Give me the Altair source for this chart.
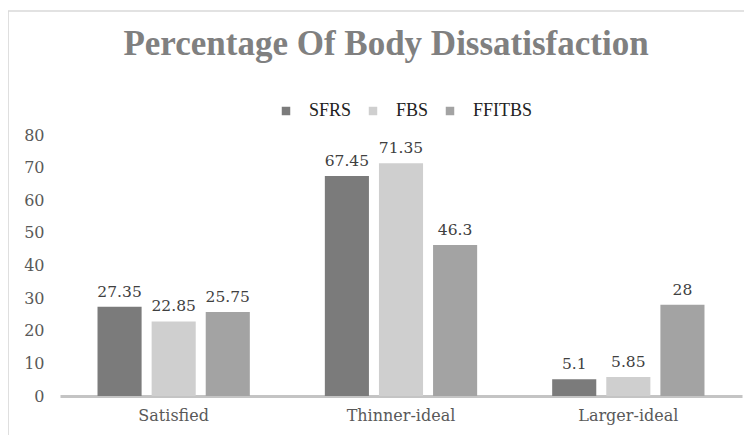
import altair as alt
import pandas as pd

categories = ["Satisfied", "Thinner-ideal", "Larger-ideal"]
series = ["SFRS", "FBS", "FFITBS"]
sfrs = [27.35, 67.45, 5.1]
fbs = [22.85, 71.35, 5.85]
ffitbs = [25.75, 46.3, 28]
y_ticks = [0, 10, 20, 30, 40, 50, 60, 70, 80]
colors = ["#7b7b7b", "#cfcfcf", "#a3a3a3"]

rows = []
for s, vals in zip(series, [sfrs, fbs, ffitbs]):
    for c, v in zip(categories, vals):
        rows.append({"category": c, "series": s, "value": v})
df = pd.DataFrame(rows)

serif = "DejaVu Serif"

yaxis = alt.Axis(title=None, values=y_ticks, labelOverlap=False,
                 grid=False, domain=False, ticks=False, labelFont=serif,
                 labelFontSize=16, labelColor="#595959", labelPadding=16)

base = alt.Chart(df).encode(
    x=alt.X("category:N", sort=categories,
            scale=alt.Scale(paddingInner=0.33, paddingOuter=0.165),
            axis=alt.Axis(title=None, labelAngle=0, labelFont=serif, labelFontSize=16,
                          labelColor="#595959", labelPadding=11, ticks=False,
                          domainColor="#c4c4c4", domainWidth=3)),
    xOffset=alt.XOffset("series:N", sort=series,
                        scale=alt.Scale(paddingInner=0.185, paddingOuter=0)),
    y=alt.Y("value:Q", scale=alt.Scale(domain=[0, 80]), axis=yaxis),
)

bars = base.mark_bar().encode(
    color=alt.Color("series:N", sort=series,
                    scale=alt.Scale(domain=series, range=colors),
                    legend=alt.Legend(title=None, orient="none", direction="horizontal",
                                      legendX=217, legendY=-33, symbolType="square",
                                      symbolSize=72, symbolStrokeWidth=0,
                                      labelFont="Liberation Serif", labelFontSize=18,
                                      labelColor="#222222", columnPadding=12,
                                      labelOffset=14)),
)

labels = base.mark_text(baseline="bottom", dy=-7, font=serif, fontSize=15.5,
                        color="#404040").encode(
    text=alt.Text("value:Q", format=""),
)

frame = alt.Chart(alt.Data(values=[{}])).mark_rule(color="#d4d4d4", strokeWidth=1.5).encode(
    x=alt.value(-52), x2=alt.value(-52), y=alt.value(-124), y2=alt.value(300)
)
frame_top = alt.Chart(alt.Data(values=[{}])).mark_rule(color="#d9d9d9", strokeWidth=1.5).encode(
    x=alt.value(-52), x2=alt.value(700), y=alt.value(-124)
)

chart = alt.layer(frame, frame_top, bars, labels).properties(
    width=682, height=261,
    autosize=alt.AutoSizeParams(type="none"),
    padding={"left": 52, "top": 127, "right": 2, "bottom": 40},
    title=alt.TitleParams("Percentage Of Body Dissatisfaction", font="Liberation Serif",
                          fontSize=35, fontWeight="bold", color="#808080",
                          anchor="middle", offset=-52, dx=-15),
).configure_view(stroke=None)

chart.save("out.html", embed_options={"renderer": "svg", "actions": False})
